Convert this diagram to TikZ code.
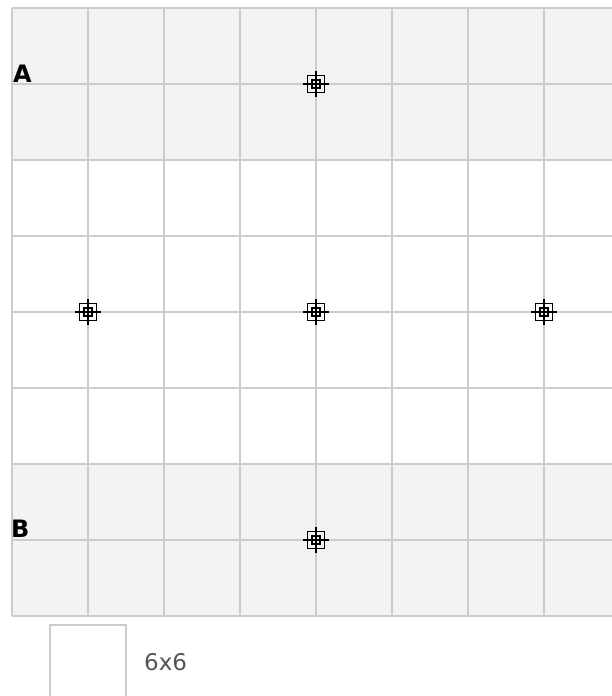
\documentclass[tikz,border=0pt]{standalone}
\usepackage{fontspec}
\setmainfont{DejaVu Sans}
\definecolor{gridline}{HTML}{CCCCCC}
\definecolor{bandfill}{HTML}{F3F3F3}
\definecolor{legendtext}{HTML}{555555}
\tikzset{
    gridstroke/.style={draw=gridline, line width=2pt},
    target/.style={draw=black, line width=1.8pt},
    rowlabel/.style={font=\bfseries\fontsize{24}{24}\selectfont, anchor=base west, inner sep=0pt},
}
\begin{document}
\begin{tikzpicture}[x=1pt, y=-1pt]
    % Canvas
    \clip (0,0) rectangle (612,696);
    \fill[white] (0,0) rectangle (612,696);

    % Shaded bands
    \fill[bandfill] (12,8) rectangle (620,160);
    \fill[bandfill] (12,464) rectangle (620,616);

    % Grid lines
    \foreach \x in {12,88,...,544} {
        \draw[gridstroke] (\x,8) -- (\x,616);
    }
    \foreach \y in {8,84,...,616} {
        \draw[gridstroke] (12,\y) -- (620,\y);
    }

    % Targets
    \foreach \x/\y in {316/84, 88/312, 316/312, 544/312, 316/540} {
        \draw[target] (\x-8.5,\y-8.5) rectangle (\x+8.5,\y+8.5);
        \draw[target] (\x-4,\y-4) rectangle (\x+4,\y+4);
        \draw[target] (\x-13,\y) -- (\x+13,\y);
        \draw[target] (\x,\y-13) -- (\x,\y+13);
    }

    % Row labels
    \node[rowlabel] (labelA) at (13,82) {A};
    \node[rowlabel] (labelB) at (11,537) {B};

    % Legend
    \draw[gridstroke, fill=white] (50,625) rectangle (126,701);
    \node[font=\fontsize{23}{23}\selectfont, text=legendtext, anchor=base west, inner sep=0pt] (legend) at (144,670) {6x6};
\end{tikzpicture}
\end{document}
